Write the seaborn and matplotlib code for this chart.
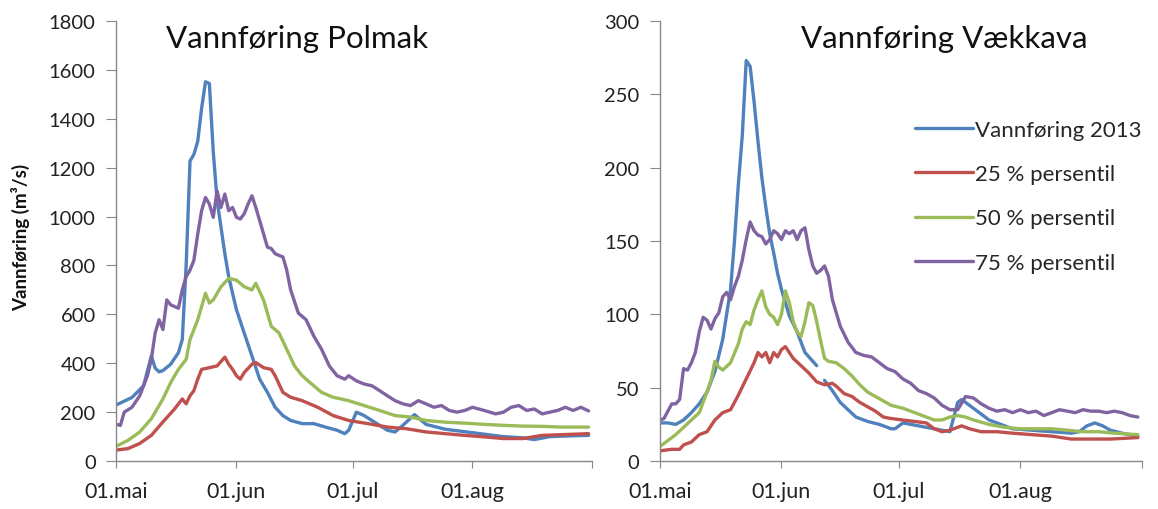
import matplotlib.pyplot as plt
import seaborn as sns
import pandas as pd

start = pd.Timestamp('2013-05-01')
month_ticks = ['2013-05-01', '2013-06-01', '2013-07-01', '2013-08-01', '2013-09-01']
month_labels = ['01.mai', '01.jun', '01.jul', '01.aug', '']
series_names = ['Vannføring 2013', '25 % persentil', '50 % persentil', '75 % persentil']
colors = ['#4F81BD', '#C0504D', '#9BBB59', '#8064A2']

# Polmak (m3/s), x = days after 01.mai
polmak_2013_days = [0, 4, 7, 9, 10, 11, 12, 14, 16, 17, 18, 19, 20, 21, 22, 23, 24, 25, 26, 27, 28,
                    29, 30, 31, 33, 35, 37, 39, 41, 43, 45, 48, 51, 54, 57, 59, 60, 62, 64, 66, 68,
                    70, 72, 74, 77, 80, 85, 90, 95, 100, 105, 108, 112, 117, 122]
polmak_2013 = [230, 260, 308, 430, 380, 365, 370, 396, 443, 497, 800, 1227, 1254, 1308, 1443, 1551,
               1544, 1267, 1065, 957, 848, 754, 686, 619, 524, 430, 335, 281, 220, 186, 166, 153,
               153, 139, 126, 112, 126, 200, 186, 166, 146, 126, 119, 146, 190, 150, 130, 120, 110,
               100, 95, 88, 100, 103, 105]

polmak_p25_days = [0, 3, 6, 9, 12, 15, 17, 18, 19, 20, 21, 22, 24, 26, 28, 29, 30, 31, 32, 33, 35,
                   36, 38, 40, 41, 43, 45, 48, 52, 56, 60, 65, 70, 75, 80, 85, 90, 95, 100, 105,
                   110, 115, 122]
polmak_p25 = [45, 51, 72, 105, 160, 213, 254, 234, 267, 288, 335, 375, 382, 389, 425, 396, 375, 349,
              335, 362, 396, 403, 382, 375, 349, 281, 261, 247, 220, 186, 166, 153, 139, 132, 119,
              112, 105, 99, 92, 92, 105, 108, 112]

polmak_p50_days = [0, 3, 6, 9, 12, 14, 16, 18, 19, 21, 23, 24, 25, 26, 27, 29, 31, 33, 35, 36, 38,
                   40, 42, 44, 46, 48, 50, 53, 56, 60, 64, 68, 72, 76, 80, 85, 90, 95, 100, 105,
                   110, 115, 122]
polmak_p50 = [61, 85, 119, 173, 254, 321, 375, 416, 497, 578, 686, 646, 659, 686, 713, 747, 740,
              713, 700, 727, 659, 551, 524, 457, 389, 349, 321, 281, 261, 247, 227, 207, 186, 180,
              166, 159, 155, 150, 146, 143, 142, 139, 139]

polmak_p75_days = [0, 1, 2, 4, 6, 8, 9, 10, 11, 12, 13, 14, 16, 17, 18, 19, 20, 21, 22, 23, 24,
                   25, 26, 27, 28, 29, 30, 31, 32, 33, 34, 35, 36, 37, 38, 39, 40, 41, 42, 43, 44,
                   45, 47, 49, 51, 53, 55, 57, 59, 60, 62, 64, 66, 68, 70, 72, 74, 76, 78, 80, 82,
                   84, 86, 88, 90, 92, 95, 98, 100, 102, 104, 106, 108, 110, 112, 114, 116, 118,
                   120, 122]
polmak_p75 = [150, 146, 200, 220, 267, 349, 416, 524, 578, 538, 659, 639, 625, 700, 754, 781, 821,
              929, 1024, 1078, 1051, 997, 1105, 1037, 1092, 1024, 1037, 997, 990, 1011, 1051,
              1085, 1037, 984, 929, 875, 869, 848, 841, 835, 781, 700, 605, 578, 511, 457, 389,
              349, 335, 349, 328, 315, 308, 288, 267, 247, 234, 227, 247, 234, 220, 227, 207,
              200, 207, 220, 207, 193, 200, 220, 227, 207, 213, 193, 200, 207, 220, 207, 220, 205]

# Vaekkava (m3/s); None marks the break in the 2013 series
vaekkava_2013_days = [0, 2, 4, 6, 8, 10, 12, 14, 16, 18, 19, 20, 21, 22, 23, 24, 25, 26, 27, 28,
                      29, 30, 31, 32, 33, 35, 37, 40, 41, 42, 44, 46, 48, 50, 53, 56, 59, 60, 61,
                      62, 64, 66, 68, 70, 72, 74, 75, 76, 77, 78, 80, 82, 84, 86, 88, 90, 95, 100,
                      105, 107, 109, 111, 113, 115, 118, 122]
vaekkava_2013 = [26, 26, 25, 28, 33, 39, 47, 61, 83, 117, 150, 189, 222, 273, 269, 245, 218, 193,
                 173, 155, 142, 128, 117, 108, 99, 88, 74, 65, None, 55, 48, 40, 35, 30, 27, 25,
                 22, 22, 24, 26, 25, 24, 23, 22, 21, 20, 30, 40, 42, 40, 36, 32, 28, 26, 24, 22,
                 21, 20, 19, 20, 24, 26, 24, 21, 19, 17]

vaekkava_p25_days = [0, 3, 5, 6, 8, 10, 12, 14, 16, 18, 20, 22, 24, 25, 26, 27, 28, 29, 30, 31,
                     32, 33, 34, 36, 38, 40, 42, 44, 45, 47, 49, 51, 53, 55, 57, 59, 62, 65, 68,
                     70, 72, 74, 77, 79, 82, 86, 90, 95, 100, 105, 110, 115, 122]
vaekkava_p25 = [7, 8, 8, 11, 13, 18, 20, 28, 33, 35, 45, 56, 67, 74, 71, 74, 67, 74, 71, 76, 78,
                74, 70, 65, 60, 54, 52, 53, 51, 46, 44, 40, 37, 34, 30, 29, 28, 27, 26, 22, 20, 21,
                24, 22, 20, 20, 19, 18, 17, 15, 15, 15, 16]

vaekkava_p50_days = [0, 4, 8, 10, 11, 13, 14, 15, 16, 18, 20, 21, 22, 23, 24, 25, 26, 27, 28, 29,
                     30, 31, 32, 33, 34, 35, 36, 37, 38, 39, 40, 41, 42, 43, 45, 47, 49, 51, 53,
                     55, 57, 59, 62, 65, 68, 70, 72, 74, 76, 78, 80, 84, 88, 92, 96, 100, 104,
                     108, 112, 116, 122]
vaekkava_p50 = [10, 18, 28, 33, 40, 55, 68, 64, 62, 67, 80, 90, 95, 93, 103, 110, 116, 105, 100,
                98, 93, 100, 116, 108, 95, 88, 85, 95, 108, 106, 95, 82, 70, 68, 67, 63, 58, 52,
                47, 44, 41, 38, 36, 33, 30, 28, 28, 30, 31, 30, 28, 25, 23, 22, 22, 22, 21, 20,
                20, 19, 18]

vaekkava_p75_days = [0, 1, 2, 3, 4, 5, 6, 7, 8, 9, 10, 11, 12, 13, 14, 15, 16, 17, 18, 19, 20, 21,
                     22, 23, 24, 25, 26, 27, 28, 29, 30, 31, 32, 33, 34, 35, 36, 37, 38, 39, 40,
                     41, 42, 43, 44, 45, 46, 48, 50, 52, 54, 56, 58, 60, 62, 64, 66, 68, 70, 72,
                     74, 76, 78, 80, 82, 84, 86, 88, 90, 92, 94, 96, 98, 100, 102, 104, 106, 108,
                     110, 112, 114, 116, 118, 120, 122]
vaekkava_p75 = [28, 29, 34, 39, 39, 42, 63, 62, 67, 74, 88, 98, 96, 90, 97, 101, 112, 115, 110,
                119, 126, 137, 151, 163, 157, 154, 153, 148, 151, 157, 155, 151, 157, 155, 157,
                151, 157, 159, 144, 133, 128, 130, 133, 126, 110, 101, 92, 81, 74, 72, 71, 67, 63,
                61, 56, 53, 48, 46, 43, 38, 35, 35, 44, 43, 39, 36, 34, 35, 33, 35, 33, 34, 31,
                33, 35, 34, 33, 35, 34, 34, 33, 34, 33, 31, 30]


def draw_series(ax, days, values, color, label):
    df = pd.DataFrame({'date': start + pd.to_timedelta(days, unit='D'),
                       'q': pd.Series(values, dtype='float')})
    df['seg'] = df['q'].isna().cumsum()
    df = df.dropna()
    for i, (seg, part) in enumerate(df.groupby('seg')):
        sns.lineplot(data=part, x='date', y='q', ax=ax, color=color, lw=2.4,
                     label=label if i == 0 else None)


def style_axis(ax, ymax, ystep, title, title_x):
    ax.set_xlim(pd.Timestamp('2013-05-01'), pd.Timestamp('2013-09-01'))
    ax.set_ylim(0, ymax)
    ax.set_yticks(range(0, ymax + 1, ystep))
    ax.set_xticks(pd.to_datetime(month_ticks))
    ax.set_xticklabels(month_labels)
    for side in ['top', 'right']:
        ax.spines[side].set_visible(False)
    for side in ['left', 'bottom']:
        ax.spines[side].set_color('#888888')
        ax.spines[side].set_linewidth(1.0)
    ax.tick_params(axis='both', direction='out', color='#888888', left=True, bottom=True,
                   labelcolor='#222222')
    ax.tick_params(axis='y', length=7, labelsize=14.5, pad=8)
    ax.tick_params(axis='x', length=5, labelsize=15.5, pad=9)
    ax.set_xlabel('')
    ax.set_ylabel('')
    ax.text(title_x, 0.962, title, transform=ax.transAxes, ha='center', va='center',
            fontsize=22.5, color='#111111')


sns.set_style('white')
plt.rcParams['font.family'] = ['Lato', 'DejaVu Sans']

fig = plt.figure(figsize=(11.58, 5.10), dpi=100)
ax1 = fig.add_axes([0.1006, 0.094, 0.411, 0.863])
ax2 = fig.add_axes([0.570, 0.094, 0.416, 0.863])

polmak = [(polmak_2013_days, polmak_2013), (polmak_p25_days, polmak_p25),
          (polmak_p50_days, polmak_p50), (polmak_p75_days, polmak_p75)]
vaekkava = [(vaekkava_2013_days, vaekkava_2013), (vaekkava_p25_days, vaekkava_p25),
            (vaekkava_p50_days, vaekkava_p50), (vaekkava_p75_days, vaekkava_p75)]

for (days, vals), color, name in zip(polmak, colors, series_names):
    draw_series(ax1, days, vals, color, name)
for (days, vals), color, name in zip(vaekkava, colors, series_names):
    draw_series(ax2, days, vals, color, name)

style_axis(ax1, 1800, 200, 'Vannføring Polmak', 0.38)
style_axis(ax2, 300, 50, 'Vannføring Vækkava', 0.59)

if ax1.get_legend() is not None:
    ax1.get_legend().remove()
ax2.legend(loc='upper left', bbox_to_anchor=(0.53, 0.776), frameon=False, fontsize=16,
           handlelength=2.6, handletextpad=0.1, labelspacing=1.1, borderaxespad=0,
           borderpad=0)

fig.text(0.018, 0.535, 'Vannføring (m³/s)', rotation=90, ha='center', va='center',
         fontsize=13.5, fontweight='bold', color='#111111')

fig.savefig('out.png', dpi=100)
